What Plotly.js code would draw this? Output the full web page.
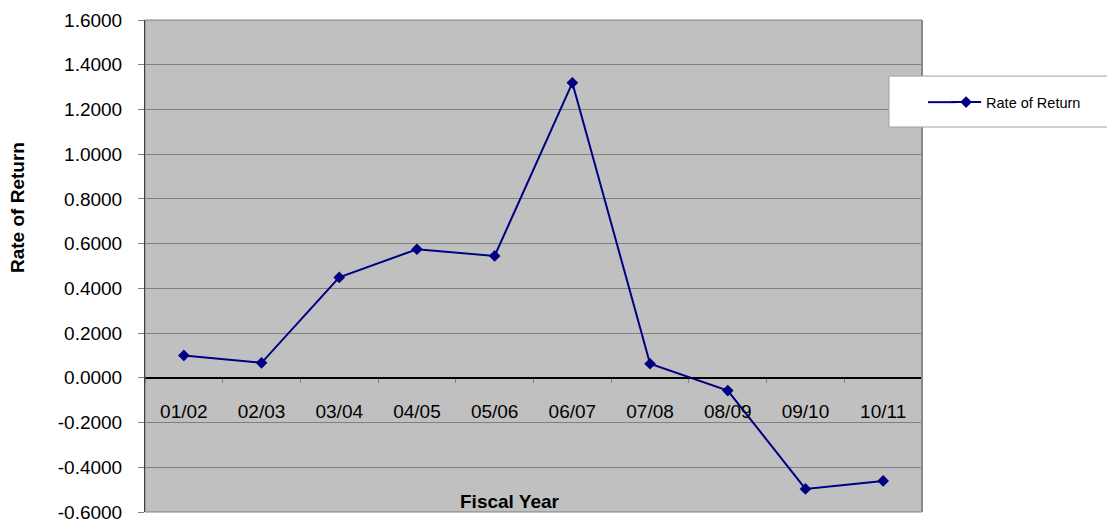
<!DOCTYPE html>
<html>
<head>
<meta charset="utf-8">
<script src="https://cdn.plot.ly/plotly-3.0.1.min.js"></script>
<style>
  html, body { margin: 0; padding: 0; background: #ffffff; }
  #chart { width: 1107px; height: 522px; }
</style>
</head>
<body>
<div id="chart"></div>
<script>
// Fiscal years and the rate of return for each year
const fiscalYears = ['01/02', '02/03', '03/04', '04/05', '05/06', '06/07', '07/08', '08/09', '09/10', '10/11'];
const rateOfReturn = [0.100, 0.067, 0.449, 0.575, 0.545, 1.319, 0.063, -0.057, -0.497, -0.461];

// Value-axis ticks (hyphen-minus labels)
const yTickVals = [-0.6, -0.4, -0.2, 0, 0.2, 0.4, 0.6, 0.8, 1.0, 1.2, 1.4, 1.6];
const yTickText = ['-0.6000', '-0.4000', '-0.2000', '0.0000', '0.2000', '0.4000', '0.6000', '0.8000', '1.0000', '1.2000', '1.4000', '1.6000'];

const yMin = -0.6, yMax = 1.6;
const FONT = 'Arial, "Liberation Sans", sans-serif';
const NAVY = '#000080';

const trace = {
  type: 'scatter',
  mode: 'lines+markers',
  name: 'Rate of Return',
  x: fiscalYears,
  y: rateOfReturn,
  line: { color: NAVY, width: 2 },
  marker: { symbol: 'diamond', size: 9, color: NAVY },
  cliponaxis: false
};

const layout = {
  width: 1107,
  height: 522,
  margin: { l: 145, r: 185, t: 20, b: 10 },
  paper_bgcolor: '#ffffff',
  plot_bgcolor: '#c0c0c0',
  font: { family: FONT, color: '#000000' },
  showlegend: true,
  xaxis: {
    type: 'category',
    range: [-0.5, fiscalYears.length - 0.5],
    anchor: 'free',
    position: (0 - yMin) / (yMax - yMin),   // category axis crosses at zero
    showline: true,
    linecolor: '#000000',
    linewidth: 1,
    showgrid: false,
    zeroline: false,
    ticks: 'outside',
    tickson: 'boundaries',
    ticklen: 4,
    tickcolor: '#808080',
    ticklabelstandoff: 16,
    tickfont: { family: FONT, size: 19, color: '#000000' },
    fixedrange: true
  },
  yaxis: {
    range: [yMin, yMax],
    tickmode: 'array',
    tickvals: yTickVals,
    ticktext: yTickText,
    showline: true,
    linecolor: '#000000',
    linewidth: 1,
    showgrid: true,
    gridcolor: '#808080',
    gridwidth: 1,
    zeroline: true,
    zerolinecolor: '#000000',
    zerolinewidth: 1,
    ticks: 'outside',
    ticklen: 6,
    tickcolor: '#808080',
    ticklabelstandoff: 12,
    ticklabeloverflow: 'allow',
    tickfont: { family: FONT, size: 19, color: '#000000' },
    fixedrange: true
  },
  legend: {
    x: 1.031,
    xanchor: 'left',
    y: 0.833,
    yanchor: 'middle',
    bgcolor: 'rgba(0,0,0,0)',
    borderwidth: 0,
    font: { family: FONT, size: 14.5, color: '#000000' }
  },
  shapes: [
    // plot-area frame
    {
      type: 'rect', xref: 'paper', yref: 'paper',
      x0: 0, x1: 1, y0: 0, y1: 1,
      line: { color: '#808080', width: 1 },
      layer: 'above'
    },
    // right-hand edge of the frame is drawn heavier
    {
      type: 'line', xref: 'paper', yref: 'paper',
      x0: 1, x1: 1, y0: 0, y1: 1,
      line: { color: '#8a8a8a', width: 2 },
      layer: 'above'
    },
    // legend box
    {
      type: 'rect', xref: 'paper', yref: 'paper',
      x0: 0.9575, x1: 1.3, y0: 0.7825, y1: 0.886,
      fillcolor: '#ffffff',
      line: { color: '#a0a0a0', width: 1 },
      layer: 'above'
    },
    // longer lead-in for the legend sample line
    {
      type: 'line', xref: 'paper', yref: 'paper',
      x0: (928 - 145) / 777, x1: (956 - 145) / 777,
      y0: 0.833, y1: 0.833,
      line: { color: NAVY, width: 2 },
      layer: 'above'
    }
  ],
  annotations: [
    {
      text: '<b>Rate of Return</b>',
      xref: 'paper', yref: 'paper',
      x: (17.5 - 145) / 777, y: (512 - 207.5) / 492,
      xanchor: 'center', yanchor: 'middle',
      textangle: -90,
      showarrow: false,
      font: { family: FONT, size: 19, color: '#000000' }
    },
    {
      text: '<b>Fiscal Year</b>',
      xref: 'paper', yref: 'paper',
      x: (510 - 145) / 777, y: (512 - 501.5) / 492,
      xanchor: 'center', yanchor: 'middle',
      showarrow: false,
      font: { family: FONT, size: 19, color: '#000000' }
    }
  ]
};

Plotly.newPlot('chart', [trace], layout, { displayModeBar: false, staticPlot: true });
</script>
</body>
</html>
